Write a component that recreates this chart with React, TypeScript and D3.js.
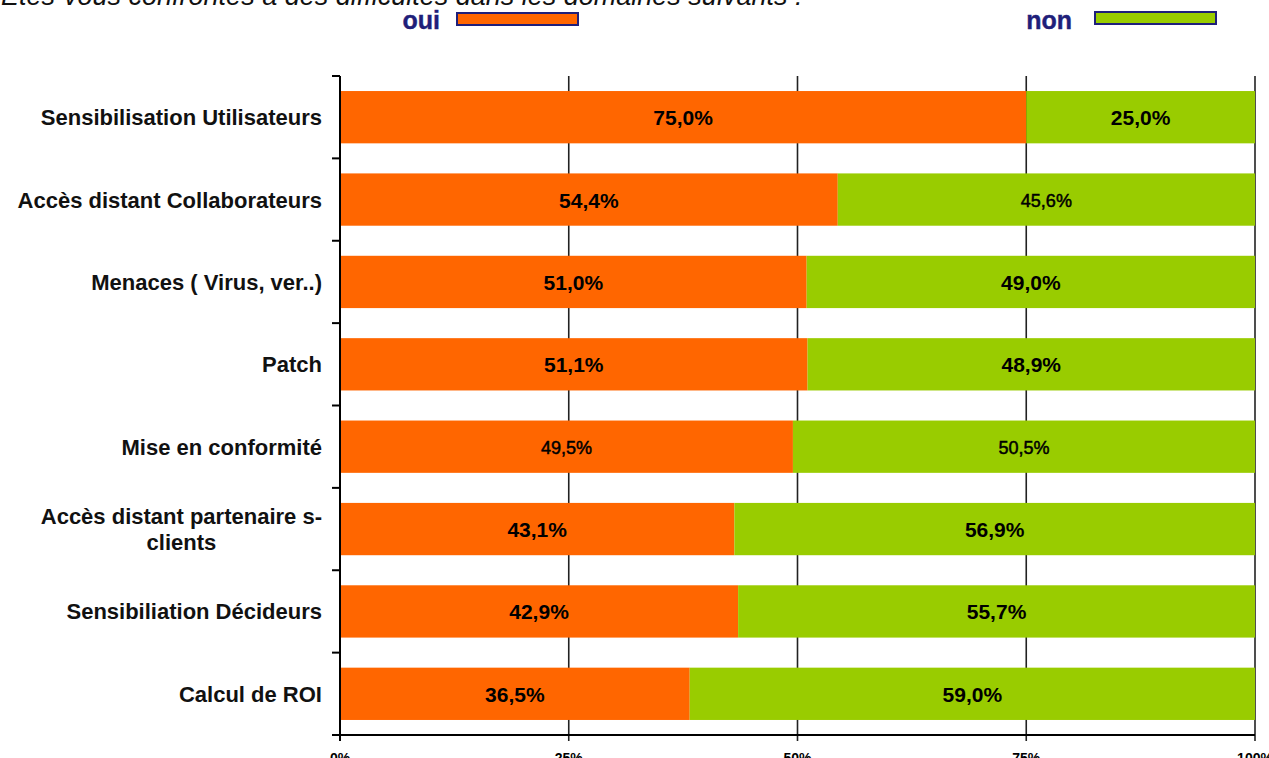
import React, { useEffect, useRef } from "react";
import * as d3 from "d3";

const categories: string[][] = [
  ["Sensibilisation Utilisateurs"],
  ["Accès distant Collaborateurs"],
  ["Menaces ( Virus, ver..)"],
  ["Patch"],
  ["Mise en conformité"],
  ["Accès distant partenaire s-", "clients"],
  ["Sensibiliation Décideurs"],
  ["Calcul de ROI"],
];
const ouiValues = [75.0, 54.4, 51.0, 51.1, 49.5, 43.1, 42.9, 36.5];
const nonValues = [25.0, 45.6, 49.0, 48.9, 50.5, 56.9, 55.7, 59.0];
const xTicks = [0, 25, 50, 75, 100];
const seriesNames = ["oui", "non"];
const titleText = "Etes-vous confrontés à des difficultés dans les domaines suivants :";

// labels drawn in lighter/smaller type in the original (series, row)
const lightLabels = new Set(["non-1", "oui-4", "non-4"]);

const W = 1269;
const H = 758;
const ORANGE = "#FF6600";
const GREEN = "#99CC00";
const NAVY = "#1F1F7A";
const FONT = "Liberation Sans, Arial, sans-serif";

export default function App() {
  const ref = useRef<SVGSVGElement | null>(null);

  useEffect(() => {
    const svg = d3.select(ref.current);
    svg.selectAll("*").remove();

    const left = 340, right = 1255, top = 76, bottom = 735;
    const x = d3.scaleLinear().domain([0, 100]).range([left, right]);
    const y = d3
      .scaleBand<number>()
      .domain(d3.range(categories.length))
      .range([top, bottom])
      .paddingInner(0.365)
      .paddingOuter(0.1825);
    const step = y.step();

    // title (cropped at top)
    svg
      .append("text")
      .attr("x", 1)
      .attr("y", 5)
      .attr("font-family", FONT)
      .attr("font-style", "italic")
      .attr("font-size", 27)
      .attr("fill", "#111")
      .text(titleText);

    // legend
    const legend = [
      { name: seriesNames[0], color: ORANGE, tx: 440, rx: 457, ry: 13 },
      { name: seriesNames[1], color: GREEN, tx: 1072, rx: 1095, ry: 12 },
    ];
    legend.forEach((l) => {
      svg
        .append("text")
        .attr("x", l.tx)
        .attr("y", 29)
        .attr("text-anchor", "end")
        .attr("font-family", FONT)
        .attr("font-size", 25)
        .attr("font-weight", 600)
        .attr("fill", NAVY)
        .attr("stroke", NAVY)
        .attr("stroke-width", 0.4)
        .text(l.name);
      svg
        .append("rect")
        .attr("x", l.rx)
        .attr("y", l.ry)
        .attr("width", 121)
        .attr("height", 12)
        .attr("fill", l.color)
        .attr("stroke", NAVY)
        .attr("stroke-width", 2);
    });

    // gridlines
    svg
      .append("g")
      .selectAll("line")
      .data(xTicks.slice(1))
      .join("line")
      .attr("x1", (d) => x(d))
      .attr("x2", (d) => x(d))
      .attr("y1", top)
      .attr("y2", bottom + 6)
      .attr("stroke", "#222")
      .attr("stroke-width", 1.6);

    // bars
    const rows = categories.map((c, i) => {
      const total = ouiValues[i] + nonValues[i];
      const o = (ouiValues[i] / total) * 100;
      return { i, o, oui: ouiValues[i], non: nonValues[i] };
    });
    const g = svg.append("g");
    g.selectAll("rect.oui")
      .data(rows)
      .join("rect")
      .attr("class", "oui")
      .attr("x", x(0))
      .attr("y", (d) => y(d.i)!)
      .attr("width", (d) => x(d.o) - x(0))
      .attr("height", y.bandwidth())
      .attr("fill", ORANGE);
    g.selectAll("rect.non")
      .data(rows)
      .join("rect")
      .attr("class", "non")
      .attr("x", (d) => x(d.o))
      .attr("y", (d) => y(d.i)!)
      .attr("width", (d) => x(100) - x(d.o))
      .attr("height", y.bandwidth())
      .attr("fill", GREEN);

    const fmt = (v: number) => v.toFixed(1).replace(".", ",") + "%";
    const lbl = svg
      .append("g")
      .attr("font-family", FONT)
      .attr("fill", "#000")
      .attr("text-anchor", "middle");
    rows.forEach((d) => {
      const cy = y(d.i)! + y.bandwidth() / 2 + 8;
      const add = (key: string, xx: number, txt: string) => {
        const light = lightLabels.has(key);
        lbl
          .append("text")
          .attr("x", xx)
          .attr("y", light ? cy - 1 : cy)
          .attr("font-size", light ? 18 : 21)
          .attr("font-weight", light ? "normal" : "bold")
          .attr("stroke", light ? "#000" : "none")
          .attr("stroke-width", light ? 0.5 : 0)
          .text(txt);
      };
      add("oui-" + d.i, (x(0) + x(d.o)) / 2, fmt(d.oui));
      add("non-" + d.i, (x(d.o) + x(100)) / 2, fmt(d.non));
    });

    // left axis
    svg
      .append("line")
      .attr("x1", left)
      .attr("x2", left)
      .attr("y1", top)
      .attr("y2", bottom)
      .attr("stroke", "#000")
      .attr("stroke-width", 2);
    svg
      .append("g")
      .selectAll("line")
      .data(d3.range(categories.length + 1))
      .join("line")
      .attr("x1", left - 8)
      .attr("x2", left)
      .attr("y1", (d) => top + d * step)
      .attr("y2", (d) => top + d * step)
      .attr("stroke", "#000")
      .attr("stroke-width", 2);

    // category labels
    const cat = svg
      .append("g")
      .attr("font-family", FONT)
      .attr("font-weight", "bold")
      .attr("font-size", 22)
      .attr("fill", "#111");
    categories.forEach((lines, i) => {
      const cy = y(i)! + y.bandwidth() / 2;
      if (lines.length === 1) {
        cat
          .append("text")
          .attr("x", 322)
          .attr("y", cy + 8)
          .attr("text-anchor", "end")
          .text(lines[0]);
      } else {
        const t1 = cat
          .append("text")
          .attr("x", 322)
          .attr("y", cy - 5)
          .attr("text-anchor", "end")
          .text(lines[0]);
        const w = (t1.node() as SVGTextElement).getComputedTextLength();
        cat
          .append("text")
          .attr("x", 322 - w / 2)
          .attr("y", cy + 21)
          .attr("text-anchor", "middle")
          .text(lines[1]);
      }
    });

    // bottom axis
    svg
      .append("line")
      .attr("x1", left)
      .attr("x2", right)
      .attr("y1", bottom)
      .attr("y2", bottom)
      .attr("stroke", "#000")
      .attr("stroke-width", 2);
    svg
      .append("line")
      .attr("x1", left)
      .attr("x2", left)
      .attr("y1", bottom)
      .attr("y2", bottom + 6)
      .attr("stroke", "#000")
      .attr("stroke-width", 2);
    svg
      .append("g")
      .attr("font-family", FONT)
      .attr("font-weight", "bold")
      .attr("font-size", 14)
      .attr("text-anchor", "middle")
      .selectAll("text")
      .data(xTicks)
      .join("text")
      .attr("x", (d) => x(d))
      .attr("y", 763)
      .text((d) => d + "%");
  }, []);

  return (
    <svg
      ref={ref}
      width={W}
      height={H}
      style={{ position: "absolute", left: 0, top: 0, background: "#fff" }}
    />
  );
}
